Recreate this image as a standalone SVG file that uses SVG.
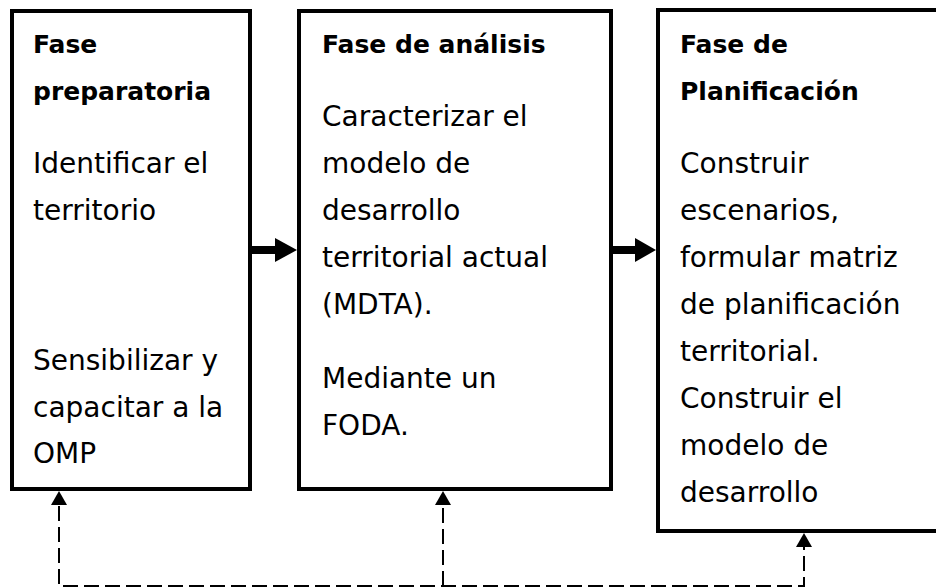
<svg xmlns="http://www.w3.org/2000/svg" width="936" height="588" viewBox="0 0 936 588">
<style>
.box{fill:#fff;stroke:#000;stroke-width:4}
.h{font-family:"DejaVu Sans",sans-serif;font-weight:bold;font-size:25px;fill:#000}
.t{font-family:"DejaVu Sans",sans-serif;font-size:28px;fill:#000}
.dash{fill:none;stroke:#000;stroke-width:2;stroke-dasharray:15,6}
.thick{stroke:#000;stroke-width:8}
</style>
<rect width="936" height="588" fill="#fff"/>
<g id="node-preparatoria">
<rect class="box" x="12" y="11" width="238" height="478"/>
<text class="h" x="33" y="53">Fase</text>
<text class="h" x="33" y="100">preparatoria</text>
<text class="t" x="33" y="173">Identificar el</text>
<text class="t" x="33" y="220">territorio</text>
<text class="t" x="33" y="370">Sensibilizar y</text>
<text class="t" x="33" y="417">capacitar a la</text>
<text class="t" x="33" y="463">OMP</text>
</g>
<g id="node-analisis">
<rect class="box" x="299" y="11" width="312" height="478"/>
<text class="h" x="322" y="53">Fase de análisis</text>
<text class="t" x="322" y="126">Caracterizar el</text>
<text class="t" x="322" y="173">modelo de</text>
<text class="t" x="322" y="220">desarrollo</text>
<text class="t" x="322" y="267">territorial actual</text>
<text class="t" x="322" y="314">(MDTA).</text>
<text class="t" x="322" y="388">Mediante un</text>
<text class="t" x="322" y="435">FODA.</text>
</g>
<g id="node-planificacion">
<rect class="box" x="658" y="10" width="290" height="521"/>
<text class="h" x="680" y="53">Fase de</text>
<text class="h" x="680" y="100">Planificación</text>
<text class="t" x="680" y="173">Construir</text>
<text class="t" x="680" y="220">escenarios,</text>
<text class="t" x="680" y="267">formular matriz</text>
<text class="t" x="680" y="314">de planificación</text>
<text class="t" x="680" y="361">territorial.</text>
<text class="t" x="680" y="408">Construir el</text>
<text class="t" x="680" y="455">modelo de</text>
<text class="t" x="680" y="502">desarrollo</text>
</g>
<g id="connectors">
<line class="thick" x1="252" y1="250" x2="276" y2="250"/>
<path d="M275,238 L297,250 L275,262 Z" fill="#000"/>
<line class="thick" x1="613" y1="250" x2="636" y2="250"/>
<path d="M635,238 L656,250 L635,262 Z" fill="#000"/>
<polyline class="dash" points="59,506 59,586 804,586 804,546"/>
<line class="dash" x1="443" y1="586" x2="443" y2="506"/>
<path d="M51,505 L59,491 L67,505 Z" fill="#000"/>
<path d="M435,505 L443,491 L451,505 Z" fill="#000"/>
<path d="M796,547 L804,533 L812,547 Z" fill="#000"/>
</g>
</svg>
